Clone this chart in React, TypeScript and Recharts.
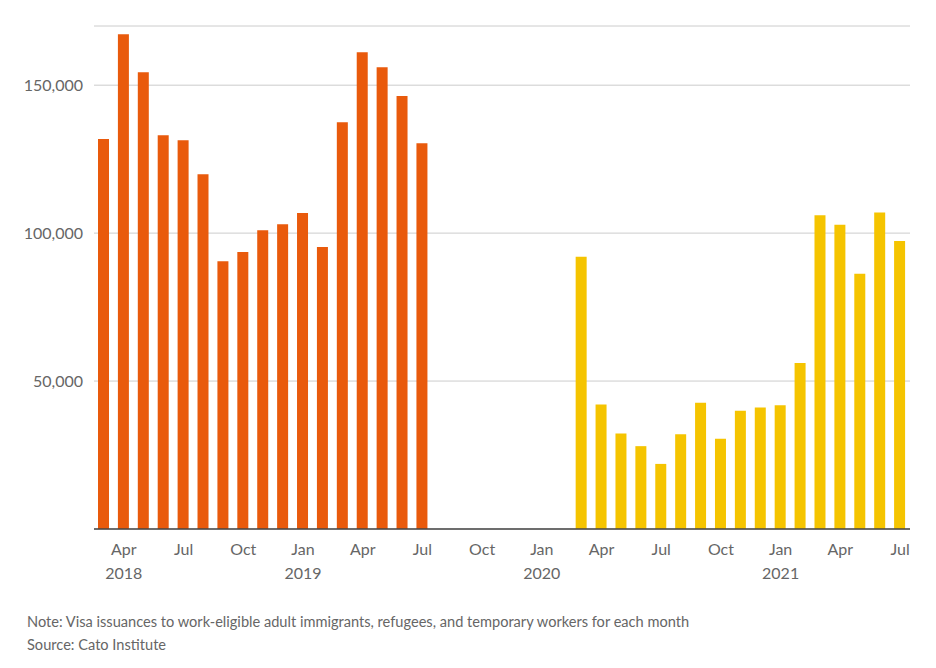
import { Bar, BarChart, CartesianGrid, XAxis, YAxis } from "recharts";

const months = [
  "Mar 2018", "Apr 2018", "May 2018", "Jun 2018", "Jul 2018", "Aug 2018",
  "Sep 2018", "Oct 2018", "Nov 2018", "Dec 2018", "Jan 2019", "Feb 2019",
  "Mar 2019", "Apr 2019", "May 2019", "Jun 2019", "Jul 2019", "Aug 2019",
  "Sep 2019", "Oct 2019", "Nov 2019", "Dec 2019", "Jan 2020", "Feb 2020",
  "Mar 2020", "Apr 2020", "May 2020", "Jun 2020", "Jul 2020", "Aug 2020",
  "Sep 2020", "Oct 2020", "Nov 2020", "Dec 2020", "Jan 2021", "Feb 2021",
  "Mar 2021", "Apr 2021", "May 2021", "Jun 2021", "Jul 2021",
];

// Mar 2018 - Jul 2019
const beforeValues = [
  131800, 167200, 154400, 133100, 131400, 119900, 90500, 93600, 101000,
  103000, 106800, 95300, 137500, 161100, 156100, 146300, 130400,
];

// Aug 2019 - Feb 2020: no data
const gapMonths = 7;

// Mar 2020 - Jul 2021
const afterValues = [
  92000, 42100, 32300, 28000, 22000, 32000, 42700, 30500, 40000, 41100,
  41800, 56100, 106000, 102800, 86300, 107000, 97300,
];

const yTicks = [0, 50000, 100000, 150000];
const labelMonths = ["Jan", "Apr", "Jul", "Oct"];

const ORANGE = "#e95a0c";
const YELLOW = "#f5c400";
const FONT = "Lato, 'Source Sans Pro', sans-serif";

const data = months.map((m, i) => {
  const b = i < beforeValues.length ? beforeValues[i] : null;
  const ai = i - beforeValues.length - gapMonths;
  const a = ai >= 0 ? afterValues[ai] : null;
  return { month: m, before: b, after: a };
});

const firstLabelIdx = months.findIndex((m) =>
  labelMonths.includes(m.split(" ")[0])
);

function MonthTick(props: any) {
  const { x, y, payload, index } = props;
  const [mon, year] = String(payload.value).split(" ");
  if (!labelMonths.includes(mon)) return <g />;
  const showYear = mon === "Jan" || index === firstLabelIdx;
  return (
    <g>
      <text
        x={x}
        y={y + 18}
        textAnchor="middle"
        fill="#666"
        fontSize={16}
        fontFamily={FONT}
      >
        {mon}
      </text>
      {showYear && (
        <text
          x={x}
          y={y + 42}
          textAnchor="middle"
          fill="#666"
          fontSize={16}
          fontFamily={FONT}
        >
          {year}
        </text>
      )}
    </g>
  );
}

export default function App() {
  return (
    <div style={{ width: 920, fontFamily: FONT, background: "#fff" }}>
      <BarChart
        width={920}
        height={582}
        data={data}
        margin={{ top: 18, right: 18, left: 0, bottom: 0 }}
        barSize={11}
      >
        <CartesianGrid vertical={false} stroke="#cccccc" />
        <XAxis
          dataKey="month"
          interval={0}
          tickLine={false}
          axisLine={{ stroke: "#444", strokeWidth: 1.5 }}
          height={61}
          tick={<MonthTick />}
        />
        <YAxis
          domain={[0, 170000]}
          ticks={yTicks}
          width={86}
          axisLine={false}
          tickLine={false}
          tickSize={0}
          tickMargin={11}
          tick={{ fill: "#666", fontSize: 16, fontFamily: FONT }}
          tickFormatter={(v: number) => (v === 0 ? "" : v.toLocaleString("en-US"))}
        />
        <Bar dataKey="before" stackId="v" fill={ORANGE} isAnimationActive={false} />
        <Bar dataKey="after" stackId="v" fill={YELLOW} isAnimationActive={false} />
      </BarChart>
      <div
        style={{
          marginTop: 20,
          marginLeft: 19,
          fontSize: 14.6,
          color: "#666",
          lineHeight: "23px",
        }}
      >
        <div>
          Note: Visa issuances to work-eligible adult immigrants, refugees, and
          temporary workers for each month
        </div>
        <div>Source: Cato Institute</div>
      </div>
    </div>
  );
}
